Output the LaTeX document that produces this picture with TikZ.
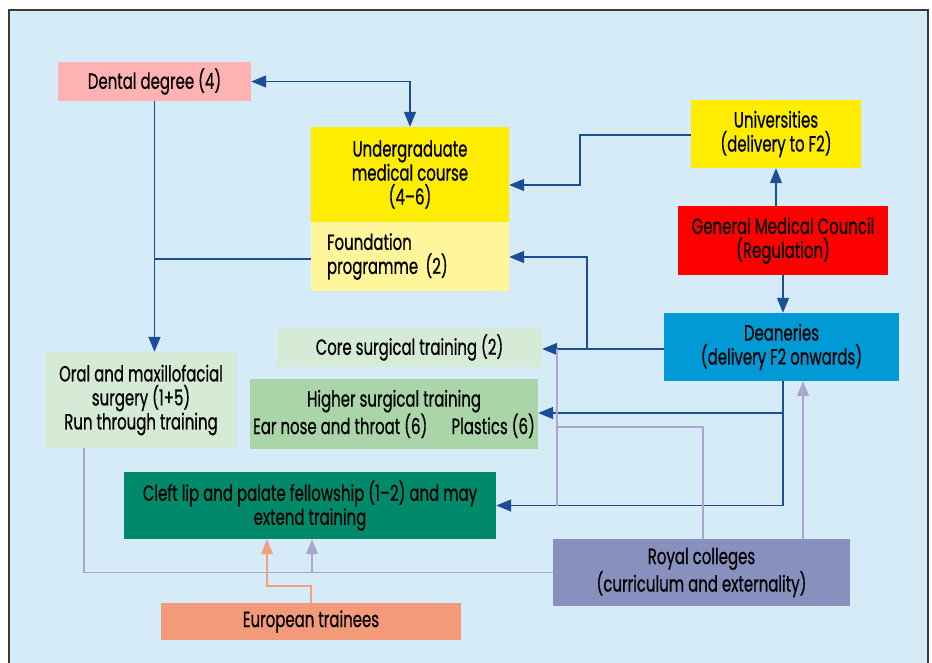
\documentclass[tikz,border=0pt]{standalone}
\usepackage{fontspec}
\setmainfont{Poppins}[FakeStretch=0.68, FakeBold=0.6]
\usetikzlibrary{arrows.meta,calc}
\definecolor{bgblue}{HTML}{D5EBF8}
\definecolor{framegray}{HTML}{3A3A3A}
\definecolor{dentalpink}{HTML}{FFB2B2}
\definecolor{ugyellow}{HTML}{FFED00}
\definecolor{foundyellow}{HTML}{FFF59B}
\definecolor{gmcred}{HTML}{FF0000}
\definecolor{deanblue}{HTML}{009AD6}
\definecolor{palegreen}{HTML}{D6EBD6}
\definecolor{midgreen}{HTML}{A9D5A8}
\definecolor{cleftgreen}{HTML}{00896A}
\definecolor{royalpurple}{HTML}{8890BD}
\definecolor{euroorange}{HTML}{F39A7B}
\definecolor{linkblue}{HTML}{1C4E98}
\definecolor{lilac}{HTML}{ABA6D1}
\definecolor{orangeline}{HTML}{F4A07E}
\tikzset{
  box/.style={rectangle, inner sep=0pt, align=center, font=\fontsize{22}{24}\selectfont},
  bluelink/.style={draw=linkblue, line width=1.4pt},
  lilaclink/.style={draw=lilac, line width=1.4pt},
  orangelink/.style={draw=orangeline, line width=1.4pt},
  bluetip/.style={-{Triangle[length=15pt,width=12pt]}},
}
\begin{document}
\begin{tikzpicture}[x=1pt,y=-1pt]
\useasboundingbox (0,0) rectangle (932,663);
\clip (0,0) rectangle (932,663);
\fill[white] (0,0) rectangle (932,663);
\draw[framegray, line width=1.6pt, fill=bgblue] (9,10) rectangle (928,700);

% nodes
\node[box, fill=dentalpink, minimum width=193pt, minimum height=39pt] (dental) at (154.5,81.5) {Dental degree (4)};
\node[box, fill=ugyellow, minimum width=198pt, minimum height=95pt] (ug) at (410,174.5) {Undergraduate\\medical course\\(4--6)};
\node[box, fill=foundyellow, minimum width=198pt, minimum height=69pt, align=left, text width=166pt] (found) at (410,256.5) {Foundation\\programme (2)};
\node[box, fill=ugyellow, minimum width=170pt, minimum height=68pt] (uni) at (776,134) {Universities\\(delivery to F2)};
\node[box, fill=gmcred, minimum width=210pt, minimum height=69pt] (gmc) at (783,240.5) {General Medical Council\\(Regulation)};
\node[box, fill=deanblue, minimum width=235pt, minimum height=68pt] (dean) at (781.5,347) {Deaneries\\(delivery F2 onwards)};
\node[box, fill=palegreen, minimum width=265pt, minimum height=39pt] (core) at (409.5,347.5) {Core surgical training (2)};
\node[box, fill=midgreen, minimum width=288pt, minimum height=70pt] (higher) at (394,414) {Higher surgical training\\Ear nose and throat (6)\hspace{1.1em}Plastics (6)};
\node[box, fill=palegreen, minimum width=192pt, minimum height=96pt] (oral) at (141,400) {Oral and maxillofacial\\surgery (1+5)\\Run through training};
\node[box, fill=cleftgreen, minimum width=372pt, minimum height=67pt] (cleft) at (310,505.5) {Cleft lip and palate fellowship (1--2) and may\\extend training};
\node[box, fill=royalpurple, minimum width=297pt, minimum height=67pt] (royal) at (701.5,572.5) {Royal colleges\\(curriculum and externality)};
\node[box, fill=euroorange, minimum width=300pt, minimum height=37pt] (euro) at (311,621.5) {European trainees};

% bend points
\coordinate (unibend) at (580,135);
\coordinate (deanfork) at (587,349);
\coordinate (rcbend) at (703,427);
\coordinate (rcleft) at (557,427);
\coordinate (rctop) at (557,349);
\coordinate (rcbottom) at (557,506);
\coordinate (oralleft) at (84,448);
\coordinate (rclow) at (312,572);
\coordinate (eurobend) at (267,586);

% blue connectors
\draw[bluelink, {Triangle[length=15pt,width=12pt]}-{Triangle[length=15pt,width=12pt]}] (dental.east) -| (ug.north);
\draw[bluelink, bluetip] (dental.south) -- (dental.south |- oral.north);
\draw[bluelink] (found.west |- 0,259) -- (dental.south |- 0,259);
\draw[bluelink, bluetip] (uni.west |- unibend) -- (unibend) |- ($(ug.east)+(0,10.5)$);
\draw[bluelink, bluetip] (uni.south |- gmc.north) -- (uni.south);
\draw[bluelink, bluetip] (gmc.south) -- (gmc.south |- dean.north);
\draw[bluelink, bluetip] (dean.west |- deanfork) -- (core.east |- deanfork);
\draw[bluelink, bluetip] (deanfork) |- (found.east |- 0,257);
\draw[bluelink, bluetip] ($(dean.south)+(1.5,0)$) |- (cleft.east);
\draw[bluelink, bluetip] ($(dean.south |- higher.east)+(1.5,-1)$) -- ($(higher.east)+(0,-1)$);

% lilac connectors
\draw[lilaclink] (rctop) -- (rcbottom);
\draw[lilaclink] (royal.north -| rcbend) |- (rcleft);
\draw[lilaclink, -{Triangle[length=15pt,width=12pt]}] ($(royal.north)+(101.5,0)$) -- ($(dean.south)+(21.5,0)$);
\draw[lilaclink] (oralleft) |- (royal.west);
\draw[lilaclink, -{Triangle[length=15pt,width=12pt]}] (rclow) -- (rclow |- cleft.south);

% orange connector
\draw[orangelink, -{Triangle[length=15pt,width=12pt]}] (euro.north |- 0,603) |- (eurobend) -- (eurobend |- cleft.south);
\end{tikzpicture}
\end{document}
